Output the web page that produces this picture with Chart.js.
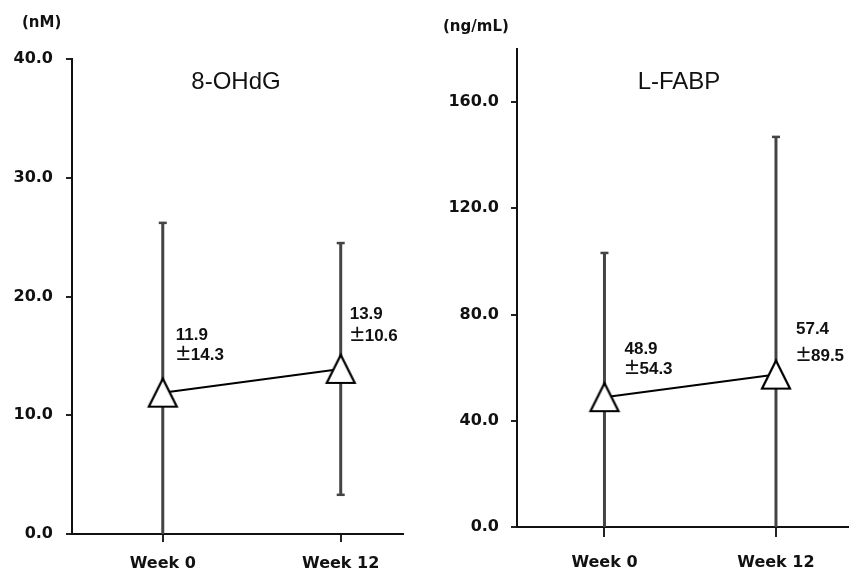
<!DOCTYPE html>
<html>
<head>
<meta charset="utf-8">
<script src="https://cdn.jsdelivr.net/npm/chart.js@4/dist/chart.umd.min.js"></script>
<style>
  html, body { margin: 0; padding: 0; background: #fff; }
  .wrap { position: absolute; top: 0; height: 571px; }
  #w1 { left: 0; width: 430px; }
  #w2 { left: 430px; width: 437px; }
</style>
</head>
<body>
<div class="wrap" id="w1"><canvas id="ohdg"></canvas></div>
<div class="wrap" id="w2"><canvas id="fabp"></canvas></div>
<script>
const weeks = ['Week 0', 'Week 12'];

const ohdgMean = [11.9, 13.9];
const ohdgSD = [14.3, 10.6];
const ohdgTicks = [0, 10, 20, 30, 40];

const fabpMean = [48.9, 57.4];
const fabpSD = [54.3, 89.5];
const fabpTicks = [0, 40, 80, 120, 160];

const tickFont = { family: 'DejaVu Sans', size: 16, weight: 'bold' };

// text placement next to each point: [dx, dy of mean line, dy of sd line]
const ohdgLabelPos = [[13, -66, -46], [9, -63, -41]];
const fabpLabelPos = [[20, -56, -36], [20, -54, -27]];

// open triangle marker, centred on its bounding box like the original
const tri = document.createElement('canvas');
tri.width = 34;
tri.height = 34;
(function () {
  const c = tri.getContext('2d');
  c.beginPath();
  c.moveTo(3, 31);
  c.lineTo(31, 31);
  c.lineTo(17, 3);
  c.closePath();
  c.fillStyle = '#fff';
  c.fill();
  c.lineWidth = 2.2;
  c.lineJoin = 'miter';
  c.strokeStyle = '#000';
  c.stroke();
})();

function errorBars(means, sds) {
  return {
    id: 'errorBars',
    beforeDatasetsDraw(chart) {
      const { ctx, chartArea, scales: { x, y } } = chart;
      ctx.save();
      ctx.beginPath();
      ctx.rect(chartArea.left - 10, chartArea.top - 10, chartArea.width + 20, chartArea.height + 10);
      ctx.clip();
      ctx.strokeStyle = '#444';
      means.forEach((m, i) => {
        const px = x.getPixelForValue(i);
        const lo = m - sds[i], hi = m + sds[i];
        const yTop = y.getPixelForValue(Math.min(hi, y.max));
        const yBot = y.getPixelForValue(Math.max(lo, y.min));
        ctx.lineWidth = 3;
        ctx.beginPath();
        ctx.moveTo(px, yTop);
        ctx.lineTo(px, yBot);
        ctx.stroke();
        ctx.lineWidth = 2.5;
        if (hi <= y.max) {
          ctx.beginPath();
          ctx.moveTo(px - 4, yTop);
          ctx.lineTo(px + 4, yTop);
          ctx.stroke();
        }
        if (lo >= y.min) {
          ctx.beginPath();
          ctx.moveTo(px - 4, yBot);
          ctx.lineTo(px + 4, yBot);
          ctx.stroke();
        }
      });
      ctx.restore();
    }
  };
}

function texts(title, titleX, unit, unitX, unitY, means, sds, pos) {
  return {
    id: 'texts',
    afterDraw(chart) {
      const { ctx, scales: { x, y } } = chart;
      ctx.save();
      ctx.fillStyle = '#111';
      ctx.textBaseline = 'middle';
      ctx.textAlign = 'left';
      ctx.font = 'bold 15px "DejaVu Sans"';
      ctx.fillText(unit, unitX, unitY);
      ctx.textAlign = 'center';
      ctx.font = '24px "Liberation Sans"';
      ctx.fillText(title, titleX, 82);
      ctx.textAlign = 'left';
      ctx.textBaseline = 'top';
      means.forEach((m, i) => {
        const px = x.getPixelForValue(i) + pos[i][0];
        const py = y.getPixelForValue(m);
        ctx.font = 'bold 17px "Liberation Sans"';
        ctx.fillText(m.toFixed(1), px, py + pos[i][1]);
        ctx.font = 'bold 17px "Noto Sans CJK JP"';
        ctx.fillText('±', px - 1, py + pos[i][2] - 2);
        const w = ctx.measureText('±').width;
        ctx.font = 'bold 17px "Liberation Sans"';
        ctx.fillText(sds[i].toFixed(1), px + w - 2, py + pos[i][2]);
      });
      ctx.restore();
    }
  };
}

function makeChart(id, opts) {
  new Chart(document.getElementById(id), {
    type: 'line',
    data: {
      datasets: [{
        data: opts.means.map((m, i) => ({ x: i, y: m })),
        borderColor: '#000',
        borderWidth: 2,
        pointStyle: tri,
        pointRadius: 17,
        tension: 0
      }]
    },
    options: {
      animation: false,
      responsive: true,
      maintainAspectRatio: false,
      layout: { padding: opts.padding },
      plugins: {
        legend: { display: false },
        tooltip: { enabled: false }
      },
      scales: {
        x: {
          type: 'linear',
          min: opts.xMin,
          max: opts.xMax,
          afterBuildTicks: s => { s.ticks = [{ value: 0 }, { value: 1 }]; },
          afterFit: s => { s.height = opts.xHeight; },
          ticks: {
            callback: v => weeks[v],
            color: '#111',
            font: tickFont,
            padding: opts.xPad
          },
          grid: {
            drawOnChartArea: false,
            tickLength: opts.xTick,
            color: '#222',
            lineWidth: 2
          },
          border: { color: '#111', width: 2 }
        },
        y: {
          min: 0,
          max: opts.yMax,
          afterBuildTicks: s => { s.ticks = opts.ticks.map(v => ({ value: v })); },
          afterFit: s => { s.width = opts.yWidth; },
          ticks: {
            callback: v => v.toFixed(1),
            color: '#111',
            font: tickFont,
            padding: opts.yPad
          },
          grid: {
            drawOnChartArea: false,
            tickLength: 6,
            color: '#222',
            lineWidth: 2
          },
          border: { color: '#111', width: 2 }
        }
      }
    },
    plugins: [
      errorBars(opts.means, opts.sds),
      texts(opts.title, opts.titleX, opts.unit, opts.unitX, opts.unitY, opts.means, opts.sds, opts.labelPos)
    ]
  });
}

makeChart('ohdg', {
  means: ohdgMean, sds: ohdgSD, ticks: ohdgTicks, yMax: 40,
  xMin: -0.51, xMax: 1.35,
  padding: { top: 59, right: 27, left: 0, bottom: 0 },
  yWidth: 72, xHeight: 37, xTick: 8, xPad: 12, yPad: 13,
  title: '8-OHdG', titleX: 236, unit: '(nM)', unitX: 22, unitY: 23,
  labelPos: ohdgLabelPos
});

makeChart('fabp', {
  means: fabpMean, sds: fabpSD, ticks: fabpTicks, yMax: 180,
  xMin: -0.51, xMax: 1.42,
  padding: { top: 49, right: 17, left: 0, bottom: 0 },
  yWidth: 87, xHeight: 44, xTick: 10, xPad: 16, yPad: 12,
  title: 'L-FABP', titleX: 249, unit: '(ng/mL)', unitX: 13, unitY: 27,
  labelPos: fabpLabelPos
});
</script>
</body>
</html>
